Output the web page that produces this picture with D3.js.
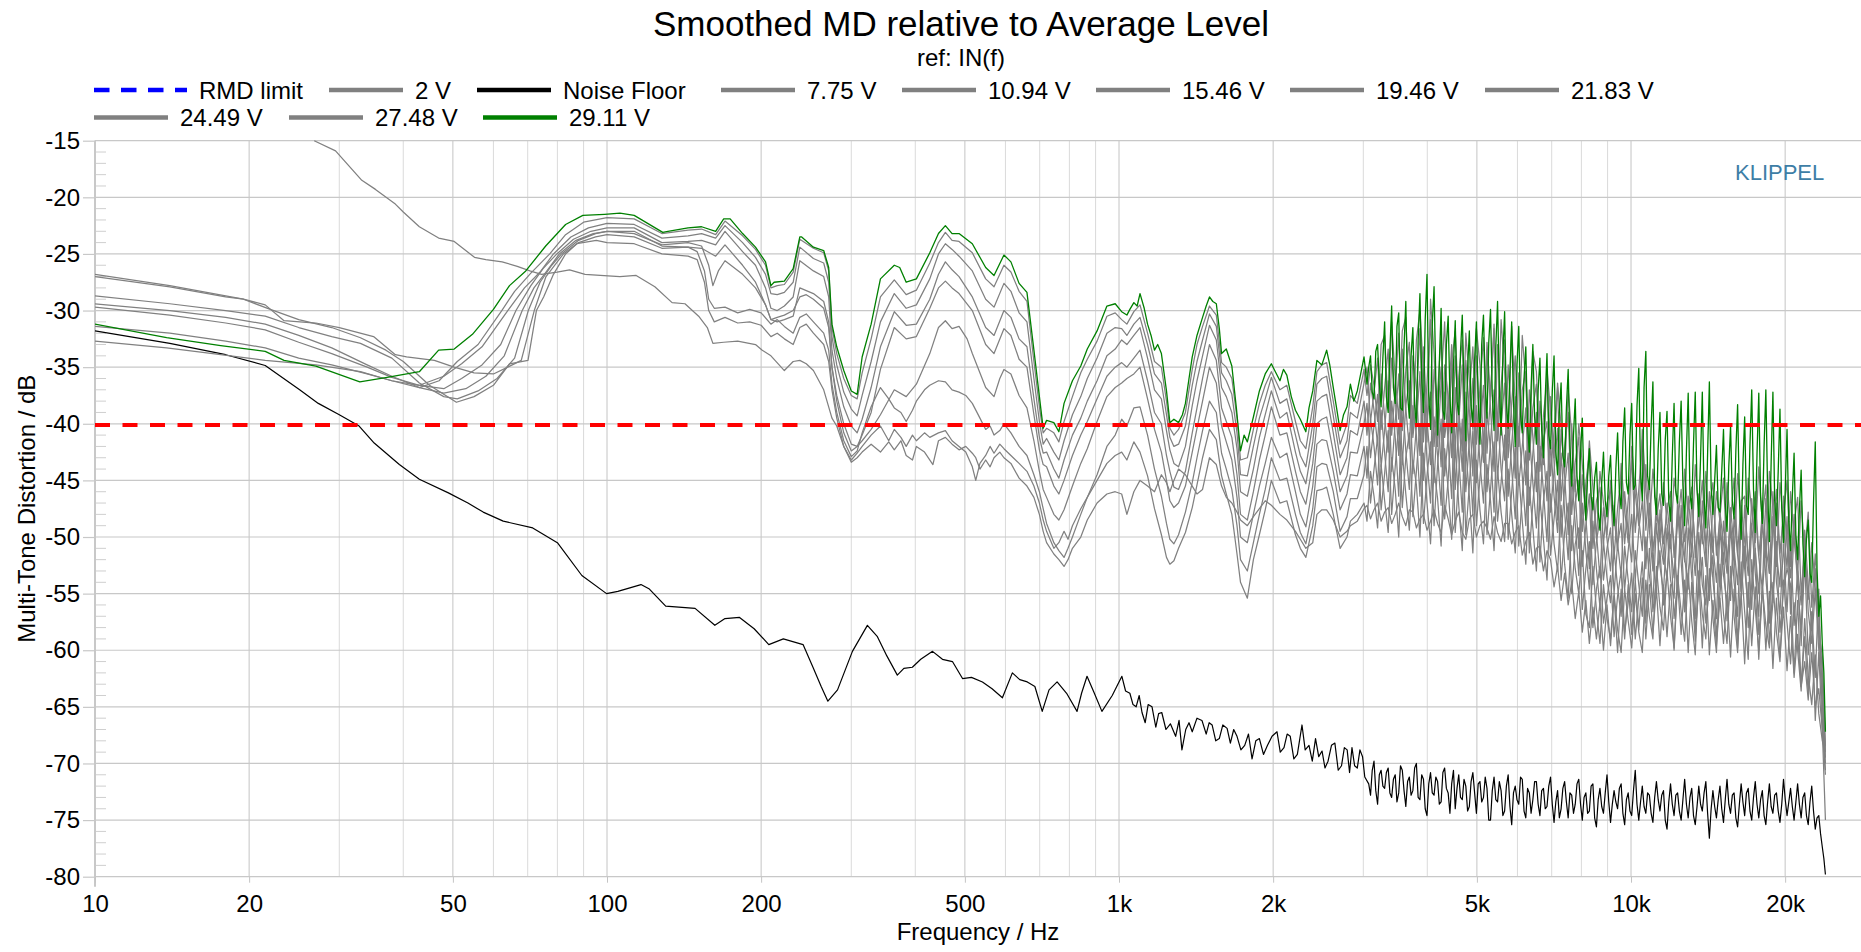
<!DOCTYPE html>
<html><head><meta charset="utf-8">
<script src="https://cdn.jsdelivr.net/npm/d3@7"></script>
<style>
html,body{margin:0;padding:0;background:#fff;}
svg{display:block;}
</style></head><body>
<svg id="chart" width="1861" height="952"></svg>
<script>
// ---------------- DATA ----------------
const chartTitle = "Smoothed MD relative to Average Level";
const chartSubtitle = "ref: IN(f)";
const xTitle = "Frequency / Hz";
const yTitle = "Multi-Tone Distortion / dB";
const xTickValues = [10,20,50,100,200,500,1000,2000,5000,10000,20000];
const xTickLabels = ["10","20","50","100","200","500","1k","2k","5k","10k","20k"];
const yTickValues = [-15,-20,-25,-30,-35,-40,-45,-50,-55,-60,-65,-70,-75,-80];
const legendLabels = ["RMD limit","2 V","Noise Floor","7.75 V","10.94 V","15.46 V","19.46 V","21.83 V","24.49 V","27.48 V","29.11 V"];
const rmdLimit = -40.1;

// frequency list for 1k-3k band (gray curves)
const f1k3k = [1012,1036,1069,1099,1137,1173,1210,1238,1257,1280,
1307,1348,1390,1420,1456,1502,1549,1586,1620,1661,
1700,1727,1781,1830,1880,1930,1984,2062,2127,2211,
2260,2317,2390,2435,2490,2544,2621,2703,2788,2831,
2920,3010];

// frequency list for 3k-24k band (gray curves)
const hfFreq = [3050,3099,3148,3199,3250,3302,3355,3408,3463,3518,
3575,3632,3690,3749,3809,3870,3932,3995,4059,4124,
4190,4257,4325,4394,4464,4536,4608,4682,4757,4833,
4910,4989,5069,5150,5232,5316,5401,5487,5575,5664,
5755,5847,5941,6036,6132,6230,6330,6431,6534,6639,
6745,6853,6963,7074,7187,7302,7419,7538,7659,7781,
7906,8032,8161,8291,8424,8559,8696,8835,8976,9120,
9266,9414,9565,9718,9873,10031,10192,10355,10520,10689,
10860,11034,11210,11390,11572,11757,11945,12136,12331,12528,
12728,12932,13139,13349,13563,13780,14000,14224,14452,14683,
14918,15157,15399,15646,15896,16150,16409,16671,16938,17209,
17485,17764,18049,18337,18631,18929,19232,19539,19852,20170,
20492,20820,21153,21492,21836,22185,22540,22901,23267,23639,23970];

// finer frequency list for 3k-24k band (29.11 V and noise floor)
const hfFreqFine = [3050,3074,3099,3123,3148,3173,3199,3224,3250,3276,
3302,3328,3355,3381,3408,3435,3463,3490,3518,3546,
3575,3603,3632,3661,3690,3719,3749,3779,3809,3839,
3870,3901,3932,3963,3995,4027,4059,4091,4124,4157,
4190,4223,4257,4291,4325,4359,4394,4429,4464,4500,
4536,4572,4608,4645,4682,4719,4757,4795,4833,4871,
4910,4949,4989,5029,5069,5109,5150,5191,5232,5274,
5316,5358,5401,5444,5487,5531,5575,5619,5664,5709,
5755,5801,5847,5894,5941,5988,6036,6084,6132,6181,
6230,6280,6330,6380,6431,6482,6534,6586,6639,6692,
6745,6799,6853,6908,6963,7018,7074,7130,7187,7244,
7302,7360,7419,7478,7538,7598,7659,7720,7781,7843,
7906,7969,8032,8096,8161,8226,8291,8357,8424,8491,
8559,8627,8696,8765,8835,8905,8976,9048,9120,9193,
9266,9340,9414,9489,9565,9641,9718,9795,9873,9952,
10031,10111,10192,10273,10355,10437,10520,10604,10689,10774,
10860,10947,11034,11122,11210,11300,11390,11481,11572,11664,
11757,11851,11945,12040,12136,12233,12331,12429,12528,12628,
12728,12830,12932,13035,13139,13244,13349,13456,13563,13671,
13780,13890,14000,14112,14224,14338,14452,14567,14683,14800,
14918,15037,15157,15278,15399,15522,15646,15771,15896,16023,
16150,16279,16409,16540,16671,16804,16938,17073,17209,17347,
17485,17624,17764,17906,18049,18193,18337,18484,18631,18779,
18929,19080,19232,19385,19539,19695,19852,20010,20170,20331,
20492,20656,20820,20986,21153,21322,21492,21663,21836,22010,
22185,22362,22540,22720,22901,23083,23267,23452,23639,23804,
23970];

// ---- 29.11 V (green)
const low_2911 = [[10,-31.2],[13.8,-32.4],[17.6,-33.1],[21.5,-33.6],[23.4,-34.4],[27,-34.9],[32.9,-36.3],[37.2,-35.9],[43,-35.4],[46.9,-33.5],[50.3,-33.4],[54.6,-32.1],[60,-29.9],[64.5,-27.8],[69.4,-26.5],[75.9,-24.3],[83,-22.4],[89.7,-21.6],[98.9,-21.5],[106,-21.4],[113,-21.6],[128.5,-23.1],[131.5,-23.0],[144,-22.7],[153,-22.6],[163,-23.0],[169,-21.9],[174,-21.9],[184,-23.2],[195,-24.4],[204,-25.7],[209,-27.8],[212,-27.5],[222,-27.4],[231,-26.3],[238,-23.5],[240,-23.5],[253,-24.4],[265,-24.7],[271,-26.2],[275,-31.2],[281,-33.2],[290,-35.3],[300,-37.1],[308,-37.4],[315,-34.1],[328,-31.2],[342,-27.2],[364,-26.0],[373,-26.2],[384,-27.5],[402,-27.2],[427,-24.9],[444,-23.2],[458,-22.5],[472,-23.2],[487,-23.2],[517,-24.1],[549,-26.2],[570,-26.9],[596,-25.1],[615,-25.7],[638,-27.6],[661,-28.4],[682,-33.5],[699,-37.6],[711,-40.4],[722,-39.7],[746,-39.9],[763,-40.7],[781,-38.2],[811,-36.2],[842,-34.9],[867,-33.4],[906,-31.8],[947,-29.6],[983,-29.4],[1012,-30.1],[1036,-30.4],[1050,-29.9],[1069,-29.3],[1085,-29.6],[1099,-28.5],[1120,-29.8],[1137,-31.2],[1155,-32.2],[1173,-33.5],[1190,-33.0],[1210,-33.8],[1238,-37.1],[1257,-39.9],[1280,-39.6],[1307,-39.9],[1330,-39.2],[1348,-38.2],[1370,-36.0],[1390,-34.1],[1420,-32.2],[1456,-30.6],[1480,-29.6],[1502,-28.8],[1525,-29.2],[1549,-29.4],[1570,-31.6],[1586,-33.8],[1620,-33.4],[1661,-34.9],[1695,-38.6],[1727,-42.4],[1755,-41.0],[1781,-41.6],[1830,-39.4],[1880,-37.1],[1930,-35.6],[1984,-34.7],[2020,-35.4],[2062,-36.2],[2095,-35.2],[2127,-35.7],[2170,-37.6],[2211,-38.8],[2260,-39.6],[2317,-40.7],[2350,-38.6],[2390,-37.1],[2435,-34.4],[2490,-34.8],[2544,-33.5],[2580,-34.8],[2621,-36.8],[2660,-38.6],[2703,-40.6],[2745,-39.2],[2788,-38.5],[2831,-36.5],[2875,-38.0],[2920,-37.1],[2965,-35.6],[3010,-34.1]];
const hf_2911 = [-36.5,-35.0,-34.0,-37.2,-37.8,-33.6,-33.0,-36.4,-38.5,-34.2,
-31.0,-37.6,-39.0,-33.5,-29.6,-36.8,-38.2,-31.4,-30.2,-38.6,
-38.8,-33.2,-29.2,-37.4,-39.5,-34.0,-31.5,-38.4,-40.2,-32.6,
-28.5,-36.0,-39.0,-30.8,-26.8,-37.5,-40.5,-31.2,-27.9,-36.2,
-41.0,-34.6,-29.8,-38.8,-39.6,-33.0,-30.5,-37.6,-40.8,-34.8,
-30.9,-38.0,-39.2,-33.6,-30.4,-37.0,-41.5,-35.2,-31.8,-38.4,
-40.0,-34.4,-31.0,-37.8,-41.8,-33.0,-30.4,-36.6,-39.5,-32.8,
-29.9,-37.4,-40.6,-33.2,-29.2,-36.8,-41.0,-34.0,-30.1,-38.2,
-40.4,-35.4,-31.0,-38.0,-42.0,-34.8,-31.4,-39.2,-40.8,-36.0,
-33.2,-40.2,-42.5,-36.8,-33.0,-39.4,-41.8,-37.0,-34.2,-40.6,
-43.0,-37.6,-33.8,-41.0,-42.2,-37.2,-34.0,-42.4,-44.5,-39.0,
-36.4,-42.8,-43.8,-38.6,-35.2,-42.0,-45.5,-41.0,-37.8,-44.6,
-46.8,-42.6,-39.5,-45.8,-48.5,-44.6,-42.2,-46.4,-47.6,-44.8,
-43.4,-47.8,-49.4,-45.2,-42.5,-46.8,-48.2,-44.6,-42.8,-47.2,
-49.0,-44.0,-40.8,-46.0,-47.5,-41.6,-38.6,-45.2,-46.2,-41.0,
-38.2,-45.8,-45.4,-38.4,-35.1,-44.2,-46.8,-36.8,-33.6,-44.6,
-45.8,-40.2,-36.3,-46.4,-48.0,-42.2,-39.0,-46.2,-47.2,-41.4,
-38.9,-46.8,-48.6,-42.8,-38.2,-46.0,-47.0,-41.6,-38.0,-45.4,
-49.0,-42.4,-37.3,-46.2,-47.5,-41.8,-37.2,-45.8,-48.2,-43.0,
-37.2,-46.6,-49.2,-42.6,-36.3,-45.6,-48.0,-45.0,-41.9,-47.4,
-47.8,-44.2,-40.5,-47.0,-49.5,-43.8,-40.2,-46.8,-48.4,-42.4,
-38.3,-46.6,-50.2,-43.6,-39.4,-47.2,-48.0,-41.8,-37.0,-45.8,
-49.6,-42.6,-37.3,-46.4,-48.8,-42.0,-37.0,-46.0,-50.4,-43.4,
-37.2,-46.8,-49.0,-44.2,-38.7,-47.4,-50.5,-45.8,-40.5,-48.6,
-51.2,-46.4,-42.6,-49.8,-52.0,-47.6,-44.1,-50.6,-53.5,-50.2,
-48.5,-53.2,-54.0,-47.0,-41.6,-52.8,-57.0,-55.2,-59.5,-62.0,
-67.2];

// ---- 27.48 V
const low_2748 = [[10,-32.7],[13.8,-33.3],[17.6,-33.9],[21.5,-34.4],[27,-34.8],[33,-35.4],[38,-36.2],[43,-36.8],[47,-36.2],[51,-34.5],[56,-33.0],[62.3,-30.0],[66,-28.3],[71,-26.7],[77.3,-25.0],[83,-23.3],[90,-22.2],[100,-21.8],[113,-21.9],[128,-23.2],[144,-22.9],[153,-22.8],[163,-23.3],[170,-22.1],[184,-23.4],[195,-24.6],[204,-26.0],[209,-28.0],[215,-27.8],[222,-27.7],[231,-26.6],[238,-23.7],[253,-24.5],[265,-24.9],[271,-26.5],[275,-31.5],[281,-33.8],[290,-36.0],[300,-37.5],[308,-37.8],[315,-35.5],[328,-32.5],[342,-28.8],[364,-27.3],[384,-28.6],[402,-28.2],[427,-25.8],[444,-24.0],[458,-23.1],[472,-23.8],[487,-23.9],[517,-24.9],[549,-27.2],[570,-27.9],[596,-26.0],[615,-26.6],[638,-28.3],[661,-29.2],[682,-34.5],[699,-38.5],[711,-40.8],[722,-40.4],[746,-40.8],[763,-41.6],[781,-39.8],[811,-37.6],[842,-35.5],[867,-34.3],[906,-32.7],[947,-30.5],[983,-30.2]];
const mid_2748 = [-30.8,-31.2,-30.1,-29.5,-32.0,-34.5,-35.0,-38.0,-40.4,-41.0,
-40.5,-39.0,-35.2,-33.0,-31.4,-29.6,-30.4,-34.6,-35.0,-36.0,
-39.5,-43.2,-43.0,-40.5,-38.2,-36.6,-35.4,-37.0,-36.6,-39.8,
-41.5,-42.2,-38.5,-35.4,-34.8,-34.6,-38.0,-41.8,-40.0,-37.5,
-38.2,-35.2];
const hf_2748 = [-37.5,-34.8,-36.6,-39.8,-33.0,-32.2,-38.6,-31.0,-36.0,-39.6,
-31.8,-30.6,-38.2,-40.8,-32.6,-30.0,-35.4,-41.6,-29.0,-33.8,
-42.0,-36.4,-31.0,-40.8,-34.6,-31.8,-38.8,-42.4,-32.0,-36.2,
-40.5,-31.6,-34.8,-42.4,-32.8,-37.6,-31.2,-40.8,-30.8,-35.4,
-41.6,-31.4,-38.2,-42.0,-32.2,-36.4,-43.0,-33.6,-35.4,-42.0,
-43.6,-35.2,-38.8,-43.0,-36.4,-40.2,-44.5,-37.0,-41.0,-46.0,
-40.0,-43.6,-47.2,-41.5,-45.6,-50.2,-44.2,-47.0,-49.8,-45.0,
-48.2,-51.2,-43.5,-47.6,-50.5,-42.0,-46.2,-49.0,-40.5,-45.8,
-49.2,-44.0,-47.6,-50.4,-45.2,-48.8,-51.0,-44.8,-47.2,-50.6,
-44.0,-48.4,-51.4,-43.6,-47.8,-50.6,-44.2,-49.2,-51.4,-46.0,
-48.6,-52.4,-45.2,-49.0,-51.6,-44.4,-48.2,-52.4,-44.8,-47.6,
-50.5,-43.8,-48.8,-51.8,-44.2,-47.4,-52.6,-45.2,-49.0,-52.8,
-46.0,-50.2,-53.4,-46.8,-51.6,-55.5,-50.5,-54.6,-58.5,-60.5,-68.5];

// ---- 24.49 V
const low_2449 = [[10,-31.4],[14,-32.0],[18,-32.7],[21.5,-33.3],[25,-34.2],[29,-34.8],[34,-35.6],[38,-36.2],[43,-36.6],[48,-35.8],[52,-34.7],[57,-33.2],[64,-30.0],[69,-28.0],[74,-26.6],[78.6,-25.0],[85,-23.5],[92,-22.7],[100,-22.3],[113,-22.4],[128,-23.6],[144,-23.4],[153,-23.2],[163,-23.6],[170,-22.5],[184,-24.0],[195,-25.3],[204,-26.8],[209,-28.5],[215,-28.6],[222,-28.4],[231,-27.5],[238,-24.4],[253,-25.4],[265,-25.8],[271,-27.5],[275,-32.3],[281,-34.8],[290,-37.2],[300,-38.7],[308,-39.3],[315,-37.5],[328,-34.5],[342,-31.0],[364,-28.5],[384,-29.8],[402,-29.5],[427,-27.2],[444,-25.0],[458,-24.1],[472,-24.6],[487,-25.2],[517,-26.5],[549,-29.0],[570,-29.7],[596,-27.6],[615,-28.3],[638,-30.2],[661,-31.0],[682,-36.0],[699,-39.8],[711,-41.8],[722,-41.3],[746,-42.5],[763,-43.2],[781,-41.5],[811,-39.2],[842,-37.6],[867,-36.0],[906,-34.2],[947,-32.0],[983,-31.5]];
const mid_2449 = [-31.6,-32.2,-31.2,-30.6,-33.0,-35.6,-36.4,-39.2,-41.2,-42.0,
-41.8,-40.2,-36.6,-34.5,-32.6,-30.3,-31.4,-35.5,-36.2,-37.4,
-40.8,-44.5,-44.6,-42.0,-39.5,-37.8,-35.9,-38.2,-37.8,-41.0,
-42.8,-43.8,-40.0,-36.5,-36.0,-35.8,-39.3,-43.0,-41.5,-39.0,
-39.5,-36.4];
const hf_2449 = [-35.0,-39.8,-37.2,-34.2,-40.5,-36.8,-33.4,-41.0,-37.0,-32.0,
-40.6,-35.2,-32.8,-41.2,-38.0,-31.6,-41.6,-36.4,-30.8,-42.0,
-37.2,-32.2,-41.2,-38.6,-33.0,-42.5,-35.8,-32.6,-42.8,-37.4,
-33.2,-41.8,-36.8,-32.4,-42.6,-37.4,-31.6,-41.5,-36.6,-32.6,
-43.0,-38.2,-34.0,-42.0,-37.0,-35.4,-43.2,-38.6,-36.5,-44.2,
-39.2,-36.2,-44.6,-40.6,-36.8,-46.8,-42.0,-39.0,-48.0,-43.4,
-41.2,-49.5,-45.2,-42.6,-51.0,-46.8,-45.6,-50.6,-47.0,-45.8,
-51.8,-47.4,-44.6,-50.6,-46.8,-43.2,-49.6,-45.8,-41.4,-49.4,
-45.0,-51.2,-48.4,-46.2,-50.6,-47.6,-46.0,-51.8,-48.8,-45.8,
-50.4,-47.6,-45.6,-51.8,-48.6,-45.0,-50.8,-47.2,-45.2,-51.6,
-48.2,-44.8,-52.2,-48.6,-44.8,-51.4,-46.8,-46.4,-52.4,-49.0,
-46.0,-51.6,-48.2,-45.4,-53.2,-49.6,-45.8,-51.4,-48.0,-45.0,
-52.6,-48.8,-46.5,-55.0,-51.4,-47.8,-56.2,-51.5,-57.0,-62.0,-69.0];

// ---- 21.83 V
const low_2183 = [[10,-29.7],[14,-30.4],[18,-31.1],[21.5,-31.7],[25,-32.8],[29,-33.8],[34,-35.0],[38,-35.9],[43,-36.6],[48,-36.9],[52,-36.0],[57,-34.8],[62,-33.0],[66.4,-30.0],[71,-27.8],[75,-26.3],[79.8,-25.0],[86,-23.7],[93,-23.0],[100,-22.7],[113,-22.7],[128,-24.0],[144,-23.9],[153,-23.8],[163,-24.2],[170,-23.0],[184,-24.8],[195,-26.0],[204,-28.0],[209,-29.8],[215,-30.0],[222,-29.6],[231,-28.8],[238,-25.6],[253,-26.5],[265,-27.0],[271,-28.8],[275,-33.5],[281,-36.0],[290,-38.5],[300,-40.2],[308,-40.8],[315,-39.6],[328,-36.8],[342,-33.2],[364,-30.1],[384,-31.3],[402,-31.2],[427,-29.0],[444,-26.8],[458,-25.7],[472,-26.4],[487,-27.0],[517,-28.8],[549,-31.5],[570,-32.2],[596,-30.0],[615,-30.6],[638,-32.5],[661,-33.2],[682,-37.8],[699,-41.2],[711,-42.6],[722,-42.5],[746,-44.0],[763,-44.8],[781,-43.2],[811,-41.0],[842,-39.5],[867,-38.0],[906,-36.2],[947,-34.0],[983,-33.4]];
const mid_2183 = [-32.6,-33.0,-32.2,-31.5,-34.2,-37.0,-37.8,-40.6,-42.3,-43.5,
-43.8,-42.0,-38.4,-36.2,-34.0,-31.3,-32.6,-36.8,-37.6,-39.0,
-42.2,-46.0,-46.4,-44.0,-41.2,-39.2,-37.1,-39.5,-39.0,-42.5,
-44.2,-45.3,-41.6,-38.0,-37.6,-37.4,-40.8,-44.5,-43.0,-40.6,
-41.0,-38.0];
const hf_2183 = [-41.0,-36.4,-38.8,-41.8,-35.6,-39.4,-42.5,-34.2,-37.6,-42.8,
-33.4,-38.6,-42.2,-34.0,-36.8,-42.8,-33.2,-39.6,-43.6,-35.2,
-38.2,-43.8,-34.8,-37.6,-43.0,-34.0,-39.2,-44.2,-34.4,-38.8,
-44.6,-34.0,-40.2,-43.4,-33.5,-38.6,-44.2,-33.0,-40.0,-43.2,
-34.8,-39.4,-44.8,-35.5,-40.4,-45.4,-37.0,-41.2,-46.0,-38.0,
-42.2,-46.8,-37.6,-43.4,-48.5,-40.5,-44.6,-49.8,-40.0,-46.2,
-51.0,-44.5,-48.2,-52.8,-46.5,-49.6,-53.6,-47.4,-50.2,-53.0,
-47.2,-50.6,-53.4,-46.0,-49.6,-52.2,-44.8,-48.4,-51.2,-43.6,
-49.4,-53.0,-46.6,-50.2,-52.4,-47.0,-50.6,-53.6,-46.8,-49.8,
-52.2,-46.4,-50.0,-53.4,-46.2,-49.6,-52.6,-46.0,-50.8,-54.0,
-47.8,-50.6,-53.2,-47.4,-51.0,-54.2,-47.2,-50.4,-53.4,-46.6,
-51.2,-55.0,-46.8,-50.8,-53.2,-46.0,-51.4,-54.4,-46.4,-50.6,
-53.6,-48.0,-52.8,-56.0,-49.4,-54.2,-58.0,-52.8,-58.8,-63.0,-69.5];

// ---- 19.46 V
const low_1946 = [[10,-29.4],[14,-30.0],[18,-30.6],[21.5,-31.2],[25,-32.2],[29,-33.3],[34,-34.8],[38,-35.8],[43,-36.8],[48,-37.3],[53,-36.9],[58,-35.8],[63,-34.0],[68.3,-30.0],[72,-28.0],[76,-26.6],[80.7,-25.0],[87,-23.8],[94,-23.2],[100,-23.0],[113,-23.0],[128,-24.3],[144,-24.4],[153,-24.5],[163,-25.2],[170,-24.2],[184,-26.0],[195,-27.5],[204,-29.5],[209,-30.8],[215,-31.0],[222,-30.8],[231,-30.5],[238,-28.0],[253,-28.5],[265,-29.2],[271,-31.0],[275,-35.0],[281,-37.5],[290,-40.0],[300,-41.8],[308,-42.0],[315,-41.0],[328,-39.0],[342,-35.2],[364,-31.5],[384,-32.5],[402,-32.3],[427,-29.8],[444,-28.0],[458,-27.4],[472,-28.0],[487,-28.5],[517,-30.0],[549,-33.0],[570,-33.8],[596,-31.6],[615,-32.2],[638,-34.3],[661,-35.0],[682,-39.2],[699,-42.3],[711,-43.6],[722,-43.8],[746,-45.5],[763,-46.2],[781,-45.0],[811,-42.8],[842,-41.0],[867,-39.8],[906,-37.8],[947,-35.8],[983,-35.0]];
const mid_1946 = [-34.6,-35.0,-34.2,-33.5,-36.2,-39.0,-40.0,-42.8,-44.2,-45.6,
-45.8,-44.2,-40.8,-38.6,-36.0,-33.0,-34.4,-38.6,-39.8,-41.2,
-44.5,-48.0,-48.5,-46.0,-43.2,-41.0,-38.5,-41.0,-40.8,-44.2,
-46.0,-47.1,-43.5,-40.0,-39.6,-39.4,-42.5,-46.0,-44.6,-42.5,
-42.6,-40.0];
const hf_1946 = [-38.2,-43.0,-40.2,-37.4,-43.8,-40.6,-36.2,-44.2,-39.8,-35.6,
-43.6,-38.4,-36.2,-44.4,-40.2,-35.4,-45.0,-39.6,-37.2,-45.2,
-39.0,-35.0,-44.6,-41.2,-34.4,-45.8,-40.0,-34.8,-46.0,-41.4,
-36.0,-45.2,-40.8,-36.6,-46.0,-41.6,-37.0,-44.8,-40.2,-36.4,
-46.4,-41.8,-37.6,-45.4,-42.0,-38.6,-47.2,-42.6,-39.0,-47.6,
-41.4,-39.8,-47.8,-44.2,-40.4,-50.0,-45.6,-42.6,-51.2,-47.0,
-45.0,-52.6,-49.0,-46.2,-54.2,-50.4,-48.4,-53.8,-51.0,-49.2,
-55.0,-50.6,-48.8,-54.6,-51.2,-48.0,-53.8,-49.4,-46.8,-52.8,
-47.0,-52.2,-55.0,-47.6,-51.4,-53.8,-47.4,-50.6,-55.0,-47.2,
-51.8,-54.6,-46.6,-50.8,-54.2,-46.8,-51.6,-55.6,-46.4,-50.8,
-54.4,-48.6,-52.4,-55.6,-48.2,-51.6,-54.8,-47.2,-52.0,-56.4,
-47.6,-51.8,-54.6,-46.6,-52.0,-55.8,-47.0,-51.8,-55.0,-48.2,
-56.8,-49.0,-54.4,-58.2,-50.0,-56.6,-59.4,-54.6,-60.0,-64.5,-70.0];

// ---- 15.46 V
const low_1546 = [[10,-28.7],[14,-29.4],[18,-30.0],[21.5,-30.5],[25,-31.5],[29,-32.3],[33,-32.9],[38,-34.2],[43,-36.4],[48,-37.6],[51,-37.8],[56,-37.1],[61,-36.0],[66,-34.2],[70.2,-30.0],[74,-27.5],[78,-26.0],[81.5,-25.0],[88,-23.8],[95,-23.2],[100,-23.0],[113,-23.2],[128,-24.2],[144,-24.0],[153,-24.3],[158,-26.0],[161,-27.8],[165,-26.5],[170,-25.6],[184,-26.8],[195,-28.0],[204,-29.5],[209,-30.8],[215,-30.6],[222,-30.4],[231,-30.0],[238,-28.8],[245,-28.6],[253,-29.0],[265,-29.8],[271,-31.5],[275,-35.0],[281,-38.0],[290,-40.8],[300,-42.4],[308,-42.0],[315,-41.5],[328,-40.5],[342,-39.2],[364,-37.0],[384,-37.6],[402,-36.5],[427,-33.8],[444,-31.5],[458,-30.9],[472,-31.6],[487,-31.4],[505,-32.5],[517,-33.8],[549,-36.8],[570,-37.6],[585,-36.0],[596,-35.2],[615,-35.6],[638,-37.5],[661,-38.6],[682,-41.5],[699,-44.2],[711,-45.8],[722,-46.5],[746,-48.0],[763,-48.5],[781,-47.6],[811,-45.5],[842,-43.5],[867,-42.2],[906,-39.8],[947,-37.6],[983,-36.8]];
const mid_1546 = [-36.4,-36.0,-35.6,-35.0,-37.8,-40.5,-42.5,-45.0,-46.8,-47.4,
-47.0,-45.5,-42.5,-40.4,-38.0,-35.0,-36.4,-40.2,-41.6,-43.2,
-46.5,-50.0,-50.5,-48.0,-45.5,-43.5,-41.2,-43.0,-42.6,-46.0,
-48.0,-49.1,-45.5,-41.8,-41.4,-41.5,-44.2,-47.6,-46.2,-44.5,
-44.6,-42.0];
const hf_1546 = [-44.8,-39.6,-42.0,-45.4,-38.8,-42.6,-46.0,-38.0,-41.2,-46.4,
-37.6,-42.4,-45.8,-38.4,-41.0,-46.4,-37.6,-43.2,-47.0,-39.4,
-42.8,-47.2,-37.2,-41.6,-46.6,-36.8,-43.0,-47.8,-37.2,-42.4,
-48.0,-38.4,-43.4,-47.0,-39.0,-42.2,-47.8,-39.2,-44.0,-46.8,
-39.6,-44.0,-48.4,-40.2,-44.6,-49.0,-41.0,-45.2,-49.2,-42.0,
-46.0,-50.4,-41.6,-46.4,-49.6,-42.6,-47.8,-52.0,-44.6,-48.8,
-53.4,-47.0,-51.2,-54.6,-48.6,-52.8,-56.2,-50.4,-53.6,-55.8,
-51.2,-54.4,-57.0,-50.8,-53.8,-56.6,-51.2,-54.2,-57.0,-50.0,
-53.4,-55.8,-48.8,-52.6,-54.8,-49.2,-53.8,-55.4,-47.6,-52.2,
-56.6,-49.2,-53.6,-57.2,-49.6,-54.2,-56.0,-49.4,-53.8,-57.2,
-49.2,-53.4,-55.8,-49.0,-54.0,-57.0,-48.6,-52.8,-56.2,-48.8,
-53.2,-57.0,-48.4,-53.6,-57.6,-48.2,-54.0,-56.8,-50.6,-56.6,
-50.2,-57.8,-53.0,-59.6,-52.0,-60.4,-56.6,-62.4,-54.6,-66.0,-70.6];

// ---- 10.94 V
const low_1094 = [[10,-27.0],[14,-27.9],[18,-28.8],[19.5,-29.0],[21.5,-29.5],[23.4,-30.9],[27,-31.1],[30,-31.5],[35,-32.3],[38.6,-33.9],[40.6,-34.1],[46,-34.4],[50.3,-35.0],[55,-35.5],[60,-35.6],[64,-35.0],[68,-34.4],[72.1,-30.0],[76,-27.0],[82.2,-25.0],[88,-24.0],[95,-23.5],[100,-23.3],[113,-23.5],[128,-24.5],[144,-24.4],[150,-24.8],[155,-26.5],[158,-29.0],[162,-29.8],[170,-29.7],[180,-30.2],[190,-29.9],[200,-30.2],[209,-31.2],[215,-30.8],[222,-31.4],[231,-32.0],[238,-30.6],[245,-30.3],[253,-31.0],[265,-32.0],[271,-33.5],[275,-36.5],[281,-39.0],[290,-41.5],[300,-42.9],[308,-42.4],[315,-40.8],[328,-38.5],[342,-36.8],[355,-37.8],[364,-38.6],[375,-39.0],[384,-39.8],[395,-38.8],[402,-38.0],[417,-37.0],[427,-36.6],[444,-36.2],[458,-36.3],[472,-37.0],[487,-37.2],[502,-37.5],[517,-38.2],[535,-39.5],[549,-40.5],[560,-40.2],[570,-41.0],[585,-40.6],[596,-40.0],[615,-40.8],[638,-42.0],[661,-42.8],[682,-44.5],[699,-46.0],[711,-47.5],[722,-48.8],[746,-50.5],[763,-51.2],[781,-51.8],[795,-51.0],[811,-50.0],[842,-48.0],[867,-46.5],[906,-44.5],[947,-42.0],[983,-41.0]];
const mid_1094 = [-39.6,-40.2,-38.6,-38.5,-41.0,-44.0,-46.4,-48.8,-50.2,-50.6,
-49.8,-47.8,-45.2,-43.0,-40.6,-38.0,-39.0,-42.6,-44.0,-45.8,
-49.0,-52.0,-53.0,-50.5,-48.0,-45.8,-43.0,-45.0,-44.8,-48.0,
-49.6,-50.6,-47.5,-43.8,-43.5,-43.6,-46.0,-49.5,-48.2,-46.6,
-46.6,-44.5];
const hf_1094 = [-42.0,-47.0,-44.0,-41.2,-47.6,-44.4,-40.6,-48.0,-43.8,-40.0,
-47.4,-43.0,-40.8,-48.2,-44.2,-40.0,-48.8,-44.6,-41.6,-49.0,
-43.6,-39.6,-48.4,-45.0,-39.2,-49.6,-44.4,-39.6,-49.8,-45.4,
-40.6,-49.0,-44.8,-41.0,-49.8,-45.8,-41.6,-48.6,-45.2,-41.0,
-50.2,-46.0,-42.0,-50.8,-46.4,-42.4,-51.4,-47.0,-43.4,-52.2,
-46.8,-44.2,-51.6,-48.4,-45.0,-53.8,-49.6,-47.0,-55.0,-50.6,
-49.2,-56.4,-52.8,-50.4,-58.0,-54.6,-52.6,-57.6,-55.4,-53.4,
-58.8,-55.2,-53.0,-58.4,-55.8,-53.2,-59.0,-55.4,-52.2,-57.6,
-51.0,-56.6,-53.8,-51.2,-56.0,-53.2,-49.8,-57.2,-53.8,-49.6,
-56.6,-53.0,-51.2,-58.4,-54.6,-51.8,-57.6,-54.4,-51.6,-58.8,
-55.0,-51.4,-57.4,-54.2,-51.2,-59.0,-55.6,-50.8,-58.0,-54.2,
-51.0,-58.6,-55.0,-50.6,-59.4,-55.8,-50.4,-58.4,-54.6,-52.8,
-54.2,-62.0,-55.6,-63.2,-58.8,-63.8,-56.8,-66.2,-60.2,-67.0,-71.0];

// ---- 7.75 V
const low_775 = [[10,-26.8],[14,-27.8],[18,-28.7],[19.5,-29.0],[22,-29.9],[25,-30.8],[29,-31.5],[33,-32.4],[37,-33.5],[40,-34.5],[45,-36.6],[50.8,-38.1],[55,-37.6],[60,-36.6],[64.5,-34.7],[70.1,-34.4],[72.8,-30.0],[75.2,-28.8],[78.6,-26.8],[83,-25.0],[87.3,-24.1],[95.3,-23.8],[100,-24.0],[113,-24.1],[128,-25.0],[144,-25.2],[150,-25.5],[155,-27.5],[158,-30.0],[162,-31.0],[170,-30.6],[180,-31.1],[190,-31.0],[200,-31.3],[209,-32.3],[215,-32.0],[222,-32.5],[231,-33.0],[238,-31.5],[245,-31.2],[253,-32.0],[265,-33.0],[271,-34.5],[275,-37.0],[281,-39.5],[290,-42.0],[300,-43.2],[308,-42.6],[315,-42.0],[328,-41.0],[342,-40.2],[355,-41.5],[364,-40.5],[375,-41.2],[384,-42.0],[395,-41.0],[402,-41.5],[417,-40.8],[427,-41.2],[444,-40.8],[458,-40.6],[472,-41.5],[487,-42.0],[502,-42.5],[517,-43.8],[525,-45.0],[535,-43.5],[549,-42.8],[560,-42.0],[570,-42.6],[585,-41.8],[596,-42.2],[615,-42.8],[638,-43.5],[661,-44.2],[682,-45.5],[699,-47.0],[711,-48.5],[722,-49.5],[746,-51.0],[763,-50.5],[781,-49.5],[795,-50.2],[811,-49.0],[842,-47.5],[867,-46.5],[906,-45.0],[947,-43.5],[983,-42.8]];
const mid_775 = [-42.5,-43.2,-41.6,-42.5,-44.6,-47.5,-49.8,-51.8,-52.4,-52.1,
-51.0,-49.6,-47.4,-45.4,-43.0,-40.5,-41.4,-44.6,-46.2,-48.0,
-51.5,-54.0,-55.4,-52.0,-49.8,-47.6,-45.0,-47.0,-46.8,-49.8,
-51.0,-51.8,-49.0,-45.9,-45.8,-45.6,-48.0,-51.0,-50.0,-48.6,
-48.0,-47.0];
const hf_775 = [-48.6,-44.2,-46.4,-49.2,-43.6,-46.8,-49.6,-43.0,-45.8,-50.0,
-42.6,-46.2,-49.4,-43.2,-45.4,-50.0,-42.6,-47.0,-50.6,-44.0,
-46.6,-50.8,-42.2,-45.8,-50.2,-41.8,-47.2,-51.2,-42.2,-46.4,
-51.4,-43.2,-47.6,-50.6,-43.6,-46.8,-51.2,-44.0,-47.8,-50.4,
-44.0,-48.0,-51.4,-44.4,-48.6,-52.4,-45.6,-49.2,-53.0,-46.6,
-50.2,-53.8,-46.2,-50.6,-53.0,-47.2,-52.4,-55.4,-49.0,-52.8,
-55.0,-51.2,-56.8,-58.0,-52.6,-56.4,-59.4,-54.2,-57.2,-59.0,
-55.0,-58.2,-60.2,-54.6,-57.4,-59.8,-55.0,-58.4,-60.2,-53.8,
-57.0,-59.0,-52.6,-56.2,-58.2,-53.0,-57.0,-59.8,-53.4,-56.6,
-59.2,-53.2,-57.4,-60.4,-53.0,-56.8,-59.0,-52.8,-57.2,-60.2,
-52.4,-56.8,-59.4,-52.6,-57.0,-60.2,-52.2,-56.6,-60.8,-52.0,
-56.4,-60.0,-54.4,-57.8,-59.8,-54.0,-58.4,-61.0,-53.8,-57.6,
-61.2,-55.8,-60.0,-63.6,-57.2,-62.2,-64.8,-60.4,-65.6,-68.0,-69.0];

// ---- 2 V
const low_2 = [[26.8,-15.0],[29.5,-15.9],[33.2,-18.5],[35.3,-19.3],[38.6,-20.6],[40,-21.3],[43,-22.6],[46.9,-23.6],[50.3,-23.9],[55.1,-25.3],[58,-25.5],[62.4,-25.7],[66.8,-26.1],[70.7,-26.5],[74.5,-26.8],[79.9,-26.6],[84.5,-26.4],[90.6,-26.8],[97,-26.9],[106,-27.0],[114,-26.9],[124,-27.9],[134,-29.3],[142,-29.4],[151,-30.5],[157,-31.5],[161,-32.9],[169,-32.8],[180,-32.7],[195,-33.0],[201,-33.5],[209,-34.0],[222,-35.3],[231,-34.5],[238,-34.4],[245,-34.7],[253,-35.3],[265,-37.0],[275,-39.5],[281,-40.2],[290,-42.0],[300,-43.4],[308,-43.0],[315,-42.5],[328,-41.8],[342,-42.5],[355,-41.6],[364,-42.3],[375,-41.5],[384,-42.8],[395,-43.2],[402,-42.0],[417,-42.5],[433,-43.6],[444,-41.5],[458,-41.2],[472,-41.8],[487,-42.3],[502,-42.0],[517,-42.6],[525,-43.0],[535,-44.0],[549,-43.2],[560,-43.8],[570,-43.0],[585,-42.5],[596,-43.0],[615,-43.5],[638,-44.8],[661,-45.5],[682,-46.5],[699,-48.0],[711,-49.5],[722,-50.5],[746,-51.5],[763,-52.0],[781,-52.6],[795,-52.0],[811,-51.0],[842,-50.0],[867,-48.5],[906,-47.0],[947,-46.2],[983,-46.0]];
const mid_2 = [-46.2,-48.0,-46.0,-45.0,-45.5,-46.0,-44.5,-45.2,-46.0,-45.0,
-44.0,-44.5,-45.5,-46.2,-45.8,-43.0,-43.6,-45.5,-46.5,-47.0,
-47.8,-48.5,-49.0,-48.2,-47.5,-46.8,-47.2,-48.0,-48.5,-49.5,
-50.2,-51.0,-50.5,-48.0,-47.6,-47.6,-48.5,-50.0,-49.5,-49.0,
-48.6,-47.5];
const hf_2 = [-47.2,-48.4,-47.6,-47.0,-48.6,-47.8,-47.4,-48.8,-48.0,-47.0,
-48.2,-49.0,-47.6,-47.8,-49.2,-48.4,-48.0,-49.4,-48.6,-47.6,
-48.8,-49.6,-47.2,-48.4,-49.8,-48.6,-47.8,-49.6,-50.2,-48.4,
-48.0,-50.0,-49.0,-48.6,-49.2,-50.2,-48.2,-49.6,-50.4,-48.8,
-48.8,-50.6,-49.6,-49.0,-51.6,-50.4,-49.6,-52.4,-51.0,-50.8,
-53.0,-51.2,-52.0,-54.4,-52.6,-55.6,-53.2,-56.0,-54.0,-57.2,
-54.8,-58.4,-55.6,-59.4,-56.2,-59.0,-55.8,-60.0,-56.0,-59.6,
-55.2,-60.2,-54.6,-59.0,-54.2,-58.6,-53.8,-58.2,-53.6,-59.0,
-54.2,-58.4,-54.6,-59.6,-54.4,-58.8,-54.2,-60.0,-54.0,-58.6,
-53.8,-60.2,-54.0,-59.2,-53.6,-59.8,-53.4,-60.4,-55.6,-59.6,
-55.4,-59.4,-55.2,-60.6,-54.6,-59.8,-55.0,-61.2,-54.0,-59.6,
-54.4,-60.8,-54.2,-60.0,-54.8,-61.6,-55.4,-60.6,-56.2,-61.8,
-57.0,-62.4,-58.6,-63.2,-61.0,-64.4,-60.2,-65.0,-63.4,-67.0,-75.0];

// ---- Noise floor (black)
const low_noise = [[10,-31.8],[14,-32.9],[18,-33.9],[21.5,-34.85],[25.1,-37.0],[27.3,-38.2],[30,-39.2],[32.8,-40.2],[35.1,-41.7],[39.3,-43.6],[43,-44.9],[49,-46.1],[53.5,-47.0],[57.3,-47.8],[62.7,-48.6],[71.6,-49.2],[80,-50.5],[89.3,-53.4],[99.8,-55.0],[105,-54.8],[116.5,-54.2],[121,-54.6],[130.2,-56.1],[148.6,-56.3],[162.4,-57.8],[170,-57.2],[181.5,-57.1],[193.8,-58.1],[207,-59.5],[221,-59.0],[241.5,-59.5],[252.5,-61.5],[262,-63.2],[270,-64.5],[282,-63.5],[301.5,-60.1],[322.5,-57.8],[337.4,-58.8],[352,-60.5],[369,-62.2],[380,-61.6],[394.8,-61.5],[410,-60.8],[432.3,-60.1],[452,-60.8],[472.8,-61.0],[494.7,-62.5],[515,-62.4],[541.1,-62.8],[565,-63.4],[591.9,-64.2],[619,-62.0],[640,-62.6],[662,-62.8],[685,-63.2],[708,-65.4],[730,-63.5],[757,-62.8],[790,-63.8],[828,-65.4],[845,-63.8],[866,-62.3],[895,-63.8],[926,-65.4],[970,-64.0],[1013,-62.3],[1030,-63.6],[1050,-63.8],[1065,-64.8],[1080,-65.0],[1095,-64.0],[1109,-65.5],[1125,-66.4],[1140,-64.8],[1160,-65.0],[1180,-66.8],[1195,-65.6],[1212,-65.5],[1235,-67.0],[1260,-66.5],[1290,-67.6],[1310,-66.2],[1327,-68.8],[1350,-67.0],[1370,-66.4],[1390,-67.2],[1420,-66.0],[1452,-66.2],[1480,-67.4],[1500,-66.4],[1520,-66.6],[1545,-68.0],[1570,-67.8],[1595,-66.6],[1626,-66.9],[1650,-68.2],[1675,-67.0],[1700,-67.6],[1730,-68.8],[1760,-68.4],[1790,-67.4],[1819,-69.6],[1850,-68.0],[1880,-67.8],[1915,-69.2],[1950,-68.4],[1990,-67.6],[2035,-67.2],[2065,-69.0],[2100,-68.6],[2130,-67.4],[2160,-67.6],[2195,-69.6],[2230,-69.2],[2255,-67.8],[2277,-66.6],[2310,-68.8],[2350,-68.4],[2385,-69.8],[2420,-67.8],[2455,-69.4],[2492,-68.9],[2525,-70.4],[2560,-69.8],[2600,-68.4],[2640,-68.2],[2680,-70.6],[2720,-70.2],[2755,-68.6],[2790,-68.8],[2820,-70.8],[2851,-68.6],[2885,-70.2],[2920,-70.4],[2955,-68.8],[2990,-69.4],[3020,-71.2]];
const hf_noise = [-70.2,-71.8,-72.8,-70.6,-69.8,-72.4,-73.6,-71.0,-70.6,-72.0,
-72.2,-70.8,-70.4,-72.6,-73.0,-71.4,-71.0,-73.4,-72.6,-70.2,
-70.6,-72.4,-73.8,-71.6,-71.2,-72.8,-72.4,-70.4,-70.0,-73.0,
-73.2,-71.0,-71.4,-74.0,-74.6,-71.8,-70.8,-72.6,-72.8,-71.2,
-71.6,-73.6,-73.4,-70.8,-70.4,-72.2,-72.6,-74.4,-71.8,-70.6,
-74.0,-72.2,-71.0,-73.0,-73.2,-71.4,-72.0,-74.2,-73.8,-71.6,
-70.8,-72.6,-74.4,-71.8,-71.6,-73.4,-73.0,-71.2,-72.2,-75.0,
-75.0,-72.4,-71.2,-73.2,-73.4,-71.6,-72.4,-74.6,-74.2,-72.0,
-71.0,-73.8,-75.4,-72.6,-72.0,-73.2,-73.6,-71.2,-71.4,-74.2,
-74.8,-72.2,-72.6,-74.4,-73.2,-71.6,-71.6,-73.6,-74.6,-72.4,
-72.2,-74.0,-73.8,-72.0,-71.2,-73.6,-75.2,-73.4,-72.4,-74.8,
-74.0,-72.2,-71.6,-73.4,-74.8,-72.6,-72.8,-74.4,-73.6,-71.8,
-71.4,-73.6,-75.0,-73.0,-72.6,-74.4,-74.2,-72.0,-71.8,-74.8,
-75.6,-73.2,-72.2,-73.8,-74.4,-72.6,-71.0,-73.4,-75.2,-73.6,
-72.4,-73.4,-74.0,-72.2,-71.8,-74.4,-75.4,-73.2,-72.6,-74.2,
-74.6,-72.4,-70.6,-73.6,-75.0,-73.4,-72.0,-73.8,-74.4,-72.6,
-72.8,-74.4,-75.2,-73.0,-71.6,-73.2,-74.2,-72.8,-72.4,-75.0,
-75.8,-73.4,-71.8,-73.6,-74.6,-72.8,-72.6,-74.2,-75.0,-73.2,
-71.4,-73.6,-74.8,-73.0,-72.2,-74.6,-75.4,-73.8,-72.0,-73.6,
-74.2,-72.6,-71.6,-74.4,-76.6,-74.0,-72.4,-73.8,-74.8,-73.2,
-72.0,-74.0,-75.2,-73.2,-71.4,-73.6,-74.4,-72.8,-72.6,-74.8,
-75.6,-73.6,-71.8,-73.4,-74.6,-72.6,-72.2,-74.2,-75.0,-73.0,
-71.6,-73.6,-74.8,-73.2,-72.4,-74.6,-75.4,-73.4,-71.8,-73.8,
-74.4,-72.8,-72.6,-74.2,-75.2,-73.6,-71.4,-73.2,-74.6,-73.4,
-72.2,-73.8,-75.0,-73.4,-71.8,-73.6,-74.8,-73.0,-72.6,-74.6,
-75.4,-73.4,-72.0,-74.2,-75.8,-74.8,-74.6,-76.2,-77.4,-78.4,
-79.8];

// ---------------- BUILD SERIES ----------------
function zip(fs, vs){ const n=Math.min(fs.length, vs.length); const out=[]; for(let i=0;i<n;i++) out.push([fs[i], vs[i]]); return out; }
const seriesData = {
  "2 V": low_2.concat(zip(f1k3k, mid_2), zip(hfFreq, hf_2)),
  "Noise Floor": low_noise.concat(zip(hfFreqFine.slice(1), hf_noise.slice(1))),
  "7.75 V": low_775.concat(zip(f1k3k, mid_775), zip(hfFreq, hf_775)),
  "10.94 V": low_1094.concat(zip(f1k3k, mid_1094), zip(hfFreq, hf_1094)),
  "15.46 V": low_1546.concat(zip(f1k3k, mid_1546), zip(hfFreq, hf_1546)),
  "19.46 V": low_1946.concat(zip(f1k3k, mid_1946), zip(hfFreq, hf_1946)),
  "21.83 V": low_2183.concat(zip(f1k3k, mid_2183), zip(hfFreq, hf_2183)),
  "24.49 V": low_2449.concat(zip(f1k3k, mid_2449), zip(hfFreq, hf_2449)),
  "27.48 V": low_2748.concat(zip(f1k3k, mid_2748), zip(hfFreq, hf_2748)),
  "29.11 V": low_2911.concat(zip(hfFreqFine, hf_2911))
};

// ---------------- STYLE ----------------
const FONT = "'Liberation Sans', Arial, Helvetica, sans-serif";
function styleOf(label){
  if (label === "RMD limit") return {stroke:"#ff0000", legendStroke:"#0000ff", width:4, dash:"15,12.5"};
  if (label === "Noise Floor") return {stroke:"#000000", width:1.2};
  if (label === "29.11 V") return {stroke:"#008000", width:1.3};
  return {stroke:"#808080", width:1.25};
}
// legend swatch start positions (layout), row 1 then row 2
const legendX = [94, 329, 477, 721, 902, 1096, 1290, 1485, 94, 289, 483];

// ---------------- DRAW ----------------
const svg = d3.select("#chart");
const X0 = 95, X1 = 1861, Y0 = 140.7, Y1 = 876.7;
const x = d3.scaleLog().domain([10, 28130]).range([X0, X1]);
const y = d3.scaleLinear().domain([-80, -15]).range([Y1, Y0]);

svg.append("rect").attr("width",1861).attr("height",952).attr("fill","#fff");

// vertical grid
const gridFreqs = [];
for (let d = 10; d <= 10000; d *= 10) for (let k = 1; k <= 9; k++) { const f = d*k; if (f <= 28130) gridFreqs.push(f); }
const gGrid = svg.append("g");
gGrid.selectAll("line.vg").data(gridFreqs).enter().append("line")
  .attr("x1", d => x(d)).attr("x2", d => x(d)).attr("y1", Y0).attr("y2", Y1)
  .attr("stroke", d => xTickValues.includes(d) ? "#c4c4c4" : "#dadada").attr("stroke-width", 1);
// horizontal grid
gGrid.selectAll("line.hg").data(yTickValues).enter().append("line")
  .attr("x1", X0).attr("x2", X1).attr("y1", d => y(d)).attr("y2", d => y(d))
  .attr("stroke", "#c8c8c8").attr("stroke-width", 1.2);
// minor y ticks
const minorY = d3.range(-16, -80, -1).filter(v => v % 5 !== 0);
gGrid.selectAll("line.my").data(minorY).enter().append("line")
  .attr("x1", X0).attr("x2", X0 + 11).attr("y1", d => y(d)).attr("y2", d => y(d))
  .attr("stroke", "#cfcfcf").attr("stroke-width", 1);
// y axis line
gGrid.append("line").attr("x1", X0).attr("x2", X0).attr("y1", Y0).attr("y2", Y1 + 10)
  .attr("stroke", "#c8c8c8").attr("stroke-width", 2);

// axes
const xAxis = d3.axisBottom(x).tickValues(xTickValues).tickFormat((d, i) => xTickLabels[i]).tickSize(6).tickPadding(12);
svg.append("g").attr("transform", `translate(0,${Y1})`).call(xAxis)
  .attr("font-size", 24).attr("font-family", FONT)
  .call(g => g.select(".domain").remove())
  .call(g => g.selectAll("line").attr("stroke", "#c4c4c4"))
  .call(g => g.selectAll("text").attr("fill", "#000"));
const yAxis = d3.axisLeft(y).tickValues(yTickValues).tickFormat(d => String(d)).tickSize(12).tickPadding(3);
svg.append("g").attr("transform", `translate(${X0},0)`).call(yAxis)
  .attr("font-size", 24).attr("font-family", FONT)
  .call(g => g.select(".domain").remove())
  .call(g => g.selectAll("line").attr("stroke", "#c8c8c8").attr("stroke-width", 1.2))
  .call(g => g.selectAll("text").attr("fill", "#000"));

// data lines
svg.append("clipPath").attr("id", "plotclip").append("rect")
  .attr("x", X0).attr("y", Y0 - 1).attr("width", X1 - X0).attr("height", Y1 - Y0 + 2);
const line = d3.line().x(d => x(d[0])).y(d => y(d[1]));
const gLines = svg.append("g").attr("clip-path", "url(#plotclip)");
legendLabels.filter(l => l !== "RMD limit").forEach(label => {
  const st = styleOf(label);
  gLines.append("path").datum(seriesData[label]).attr("d", line)
    .attr("fill", "none").attr("stroke", st.stroke).attr("stroke-width", st.width)
    .attr("stroke-linejoin", "round");
});
// RMD limit on top
{
  const st = styleOf("RMD limit");
  gLines.append("path").datum([[10, rmdLimit], [28130, rmdLimit]]).attr("d", line)
    .attr("fill", "none").attr("stroke", st.stroke).attr("stroke-width", st.width)
    .attr("stroke-dasharray", st.dash);
}

// titles
svg.append("text").attr("x", 961).attr("y", 36).attr("text-anchor", "middle")
  .attr("font-family", FONT).attr("font-size", 35).attr("fill", "#000").text(chartTitle);
svg.append("text").attr("x", 961).attr("y", 66).attr("text-anchor", "middle")
  .attr("font-family", FONT).attr("font-size", 24).attr("fill", "#000").text(chartSubtitle);
svg.append("text").attr("x", (X0 + X1) / 2).attr("y", 940).attr("text-anchor", "middle")
  .attr("font-family", FONT).attr("font-size", 24).attr("fill", "#000").text(xTitle);
svg.append("text").attr("transform", `translate(35,${(Y0 + Y1) / 2}) rotate(-90)`).attr("text-anchor", "middle")
  .attr("font-family", FONT).attr("font-size", 24).attr("fill", "#000").text(yTitle);
svg.append("text").attr("x", 1735).attr("y", 180)
  .attr("font-family", FONT).attr("font-size", 22).attr("fill", "#3e7ea6").text("KLIPPEL");

// legend
const gLeg = svg.append("g");
legendLabels.forEach((label, i) => {
  const row = i < 8 ? 0 : 1;
  const lx = legendX[i];
  const st = styleOf(label);
  const ly = 90 + row * 27.5;
  const sw = label === "RMD limit" ? 93 : 74;
  const ln = gLeg.append("line").attr("x1", lx).attr("x2", lx + sw).attr("y1", ly).attr("y2", ly)
    .attr("stroke", st.legendStroke || st.stroke).attr("stroke-width", 4.5);
  if (st.dash) ln.attr("stroke-dasharray", "15.5,11.5");
  gLeg.append("text").attr("x", lx + sw + 12).attr("y", ly + 8.5)
    .attr("font-family", FONT).attr("font-size", 24).attr("fill", "#000").text(label);
});
</script>
</body></html>
